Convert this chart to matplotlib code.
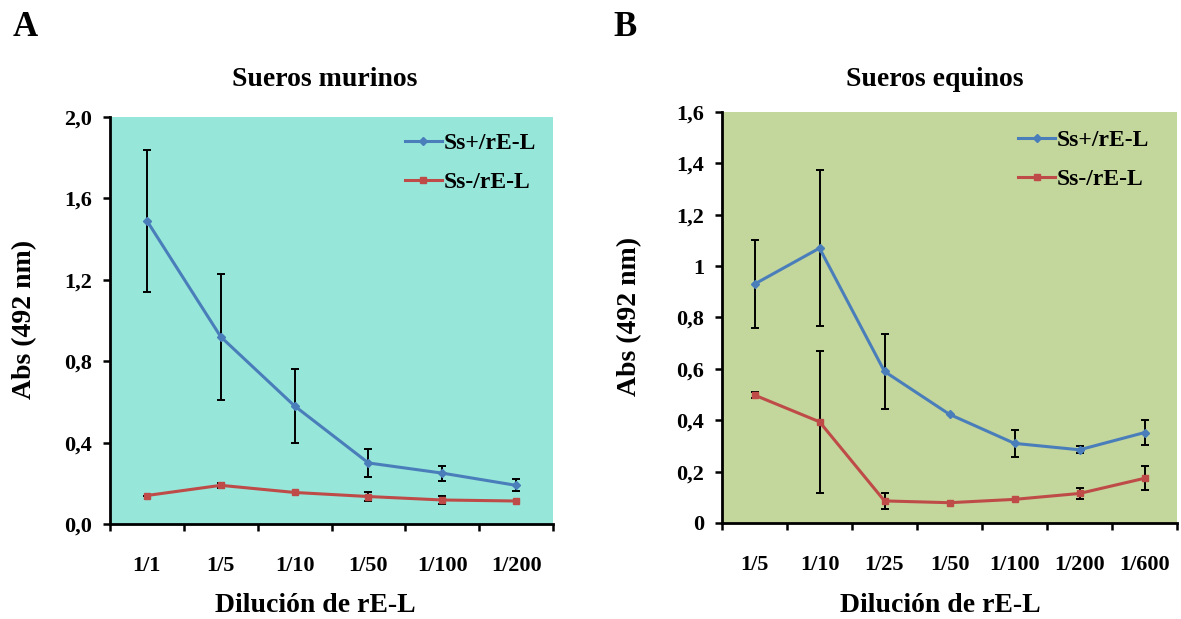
import numpy as np
import matplotlib
matplotlib.use("Agg")
import matplotlib.pyplot as plt

plt.rcParams['font.family'] = ['Liberation Serif', 'DejaVu Serif']
plt.rcParams['font.weight'] = 'bold'

# panel A: sueros murinos
dil_a = ['1/1', '1/5', '1/10', '1/50', '1/100', '1/200']
pos_a = [1.49, 0.92, 0.58, 0.30, 0.25, 0.19]
pos_a_err = [0.35, 0.31, 0.18, 0.07, 0.037, 0.03]
neg_a = [0.14, 0.19, 0.155, 0.135, 0.118, 0.113]
neg_a_err = [0.0, 0.012, 0.0, 0.024, 0.02, 0.0]
yticks_a = [0.0, 0.4, 0.8, 1.2, 1.6, 2.0]
ylabels_a = ['0,0', '0,4', '0,8', '1,2', '1,6', '2,0']

# panel B: sueros equinos
dil_b = ['1/5', '1/10', '1/25', '1/50', '1/100', '1/200', '1/600']
pos_b = [0.93, 1.07, 0.59, 0.423, 0.31, 0.285, 0.352]
pos_b_err = [0.17, 0.305, 0.147, 0.0, 0.052, 0.014, 0.05]
neg_b = [0.498, 0.394, 0.086, 0.079, 0.092, 0.115, 0.174]
neg_b_err = [0.013, 0.276, 0.03, 0.0, 0.0, 0.02, 0.046]
yticks_b = [0.0, 0.2, 0.4, 0.6, 0.8, 1.0, 1.2, 1.4, 1.6]
ylabels_b = ['0', '0,2', '0,4', '0,6', '0,8', '1', '1,2', '1,4', '1,6']

BLUE = '#4a7ebb'
RED = '#be4b48'
W, H = 1181, 619


def draw_panel(ax, dil, pos, pos_err, neg, neg_err, yticks, ylabels, bg, leg_anchor):
    n = len(dil)
    x = np.arange(n)
    ax.set_facecolor(bg)
    ax.errorbar(x, pos, yerr=pos_err, fmt='none', ecolor='black',
                elinewidth=1.4, capsize=2.6, capthick=1.4, zorder=2)
    ax.errorbar(x, neg, yerr=neg_err, fmt='none', ecolor='black',
                elinewidth=1.4, capsize=2.6, capthick=1.4, zorder=2)
    ax.plot(x, pos, color=BLUE, lw=2.2, marker='D', ms=4.5, label='Ss+/rE-L', zorder=3)
    ax.plot(x, neg, color=RED, lw=2.2, marker='s', ms=5, label='Ss-/rE-L', zorder=3)

    ax.set_xlim(-0.5, n - 0.5)
    ax.set_ylim(yticks[0], yticks[-1])
    ax.set_xticks(np.arange(n + 1) - 0.5)
    ax.set_xticklabels([])
    ax.set_xticks(x, minor=True)
    ax.set_xticklabels(dil, minor=True)
    ax.tick_params(axis='x', which='major', direction='out', length=5, width=1.8)
    ax.tick_params(axis='x', which='minor', length=0, pad=23, labelsize=16)
    ax.set_yticks(yticks)
    ax.set_yticklabels(ylabels)
    ax.tick_params(axis='y', direction='out', length=5, width=1.8, labelsize=16, pad=8)

    for s in ['top', 'right']:
        ax.spines[s].set_visible(False)
    for s in ['left', 'bottom']:
        ax.spines[s].set_linewidth(2)

    ax.legend(loc='upper left', bbox_to_anchor=leg_anchor, frameon=False, fontsize=17,
              handlelength=1.55, handletextpad=0.1, labelspacing=0.75, borderpad=0,
              borderaxespad=0)


fig = plt.figure(figsize=(11.81, 6.19), dpi=100)
ax_a = fig.add_axes([110 / W, 95 / H, 443 / W, 407 / H])
ax_b = fig.add_axes([722 / W, 96 / H, 455 / W, 411 / H])

draw_panel(ax_a, dil_a, pos_a, pos_a_err, neg_a, neg_a_err, yticks_a, ylabels_a,
           '#96e6d9', (0.666, 0.962))
draw_panel(ax_b, dil_b, pos_b, pos_b_err, neg_b, neg_b_err, yticks_b, ylabels_b,
           '#c3d69b', (0.651, 0.958))

# titles, axis labels and panel letters
txt = dict(fontweight='bold', ha='center', va='center')
fig.text(325 / W, 1 - 80 / H, 'Sueros murinos', fontsize=20, **txt)
fig.text(935 / W, 1 - 80 / H, 'Sueros equinos', fontsize=20, **txt)
fig.text(315 / W, 1 - 605 / H, 'Dilución de rE-L', fontsize=20, **txt)
fig.text(940 / W, 1 - 605 / H, 'Dilución de rE-L', fontsize=20, **txt)
fig.text(25 / W, 1 - 319 / H, 'Abs (492 nm)', fontsize=20, rotation=90, **txt)
fig.text(630 / W, 1 - 316 / H, 'Abs (492 nm)', fontsize=20, rotation=90, **txt)
fig.text(25 / W, 1 - 28 / H, 'A', fontsize=25, **txt)
fig.text(625 / W, 1 - 27 / H, 'B', fontsize=25, **txt)

fig.savefig('out.png', dpi=100)
